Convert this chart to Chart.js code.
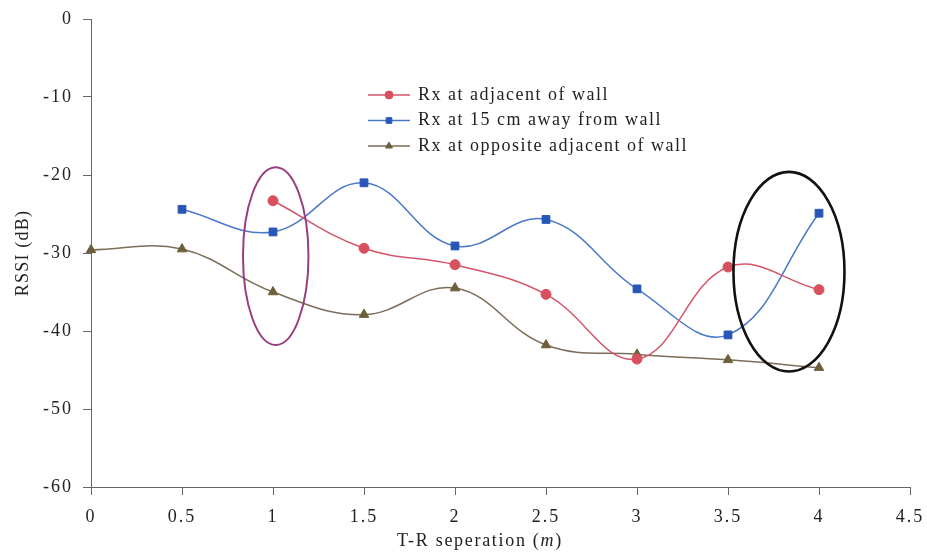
<!DOCTYPE html>
<html>
<head>
<meta charset="utf-8">
<script src="https://cdn.jsdelivr.net/npm/chart.js@4/dist/chart.umd.min.js"></script>
<style>
  html, body { margin: 0; padding: 0; background: #fff; }
  #wrap { width: 927px; height: 559px; }
</style>
</head>
<body>
<div id="wrap"><canvas id="rssiChart"></canvas></div>
<script>
// 거리별 RSSI 측정값 (dB)
const separation = [0, 0.5, 1, 1.5, 2, 2.5, 3, 3.5, 4];
const adjacentWall = [null, null, -23.3, -29.4, -31.5, -35.3, -43.6, -31.8, -34.7];
const awayFromWall = [null, -24.4, -27.3, -21.0, -29.1, -25.7, -34.6, -40.5, -24.9];
const oppositeWall = [-29.6, -29.5, -35.0, -37.9, -34.5, -41.8, -43.0, -43.7, -44.7];

const seriesNames = [
    'Rx at adjacent of wall',
    'Rx at 15 cm away from wall',
    'Rx at opposite adjacent of wall'
];
const yTicks = [0, -10, -20, -30, -40, -50, -60];

// 강조 타원 (데이터 좌표 기준)
const highlightRings = [
    { x: 1.015, y: -30.4, rx: 0.18, ry: 11.4, color: '#9a3d80', width: 2 },
    { x: 3.835, y: -32.4, rx: 0.305, ry: 12.8, color: '#111111', width: 2.6 }
];

const FONT = '"Liberation Serif", "Times New Roman", serif';
const TICK_SPACING = '2px';

const toPoints = (arr) => separation.map((x, i) => ({ x: x, y: arr[i] })).filter(p => p.y !== null);

/*
 * 눈금 글자 간격 지정 (레이아웃 계산 후 그릴 때만 적용)
 */
const spacingPlugin = {
    id: 'spacing',
    beforeDraw(chart) { chart.ctx.letterSpacing = TICK_SPACING; },
    afterDraw(chart) { chart.ctx.letterSpacing = '0px'; }
};

/*
 * 타원 + 축 제목 + 범례 그리기
 */
const overlayPlugin = {
    id: 'overlay',
    afterDatasetsDraw(chart) {
        const ctx = chart.ctx;
        const xs = chart.scales.x, ys = chart.scales.y;
        ctx.save();
        highlightRings.forEach(r => {
            const cx = xs.getPixelForValue(r.x);
            const cy = ys.getPixelForValue(r.y);
            const rx = Math.abs(xs.getPixelForValue(r.x + r.rx) - cx);
            const ry = Math.abs(ys.getPixelForValue(r.y + r.ry) - cy);
            ctx.beginPath();
            ctx.ellipse(cx, cy, rx, ry, 0, 0, Math.PI * 2);
            ctx.strokeStyle = r.color;
            ctx.lineWidth = r.width;
            ctx.stroke();
        });
        ctx.restore();
    },
    afterDraw(chart) {
        const ctx = chart.ctx;
        const area = chart.chartArea;
        ctx.save();
        ctx.fillStyle = '#222';

        // y축 제목
        ctx.letterSpacing = '1.2px';
        ctx.font = '18px ' + FONT;
        ctx.translate(23, (area.top + area.bottom) / 2);
        ctx.rotate(-Math.PI / 2);
        ctx.textAlign = 'center';
        ctx.textBaseline = 'middle';
        ctx.fillText('RSSI (dB)', 0, 0);
        ctx.setTransform(1, 0, 0, 1, 0, 0);

        // x축 제목 (m 은 이탤릭)
        ctx.letterSpacing = '1.7px';
        const part1 = 'T-R seperation (';
        const part2 = 'm';
        const part3 = ')';
        ctx.font = '18px ' + FONT;
        const w1 = ctx.measureText(part1).width;
        const w3 = ctx.measureText(part3).width;
        ctx.font = 'italic 18px ' + FONT;
        const w2 = ctx.measureText(part2).width;
        const tx = 480 - (w1 + w2 + w3) / 2;
        const ty = 541;
        ctx.textAlign = 'left';
        ctx.textBaseline = 'middle';
        ctx.font = '18px ' + FONT;
        ctx.fillText(part1, tx, ty);
        ctx.font = 'italic 18px ' + FONT;
        ctx.fillText(part2, tx + w1, ty);
        ctx.font = '18px ' + FONT;
        ctx.fillText(part3, tx + w1 + w2, ty);

        // 범례
        ctx.letterSpacing = '1.5px';
        const lx = 368, ly = 95, gap = 25.5;
        chart.data.datasets.forEach((ds, i) => {
            const y = ly + i * gap;
            ctx.beginPath();
            ctx.moveTo(lx, y);
            ctx.lineTo(lx + 42, y);
            ctx.strokeStyle = ds.borderColor;
            ctx.lineWidth = 1.5;
            ctx.stroke();
            ctx.fillStyle = ds.pointBackgroundColor;
            ctx.strokeStyle = ds.pointBorderColor;
            ctx.lineWidth = 1;
            Chart.helpers.drawPoint(ctx, {
                pointStyle: ds.pointStyle,
                radius: 4,
                rotation: 0,
                borderWidth: 1
            }, lx + 21, y);
            ctx.fillStyle = '#222';
            ctx.font = '18px ' + FONT;
            ctx.textAlign = 'left';
            ctx.textBaseline = 'middle';
            ctx.fillText(ds.label, lx + 50, y);
        });
        ctx.restore();
    }
};

document.addEventListener('DOMContentLoaded', function () {
    const ctx = document.getElementById('rssiChart').getContext('2d');

    const lineSet = (label, arr, line, fill, style, radius) => ({
        label: label,
        data: toPoints(arr),
        borderColor: line,
        borderWidth: 1.5,
        pointStyle: style,
        pointRadius: radius,
        pointHoverRadius: radius,
        pointBackgroundColor: fill,
        pointBorderColor: fill,
        pointBorderWidth: 1,
        tension: 0.4,
        fill: false,
        clip: false
    });

    new Chart(ctx, {
        type: 'line',
        data: {
            datasets: [
                lineSet(seriesNames[0], adjacentWall, '#d4566a', '#d8505e', 'circle', 5),
                lineSet(seriesNames[1], awayFromWall, '#4a79c8', '#2856b8', 'rect', 5.5),
                lineSet(seriesNames[2], oppositeWall, '#7c6c58', '#6e5f3c', 'triangle', 5.5)
            ]
        },
        options: {
            responsive: true,
            maintainAspectRatio: false,
            animation: false,
            layout: { padding: { top: 19, right: 17, left: 0, bottom: 0 } },
            plugins: {
                legend: { display: false },
                tooltip: { enabled: false }
            },
            scales: {
                x: {
                    type: 'linear',
                    min: 0,
                    max: 4.5,
                    ticks: {
                        stepSize: 0.5,
                        padding: 11,
                        color: '#222',
                        font: { family: FONT, size: 18 },
                        maxRotation: 0,
                        callback: (v) => String(v)
                    },
                    grid: { drawOnChartArea: false, drawTicks: true, tickLength: 8, color: '#666' },
                    border: { display: true, color: '#666', width: 1 },
                    afterFit: (scale) => {
                        scale.height = 72;
                        scale.paddingLeft = 0;
                        scale.paddingRight = 0;
                    }
                },
                y: {
                    min: -60,
                    max: 0,
                    afterBuildTicks: (scale) => {
                        scale.ticks = yTicks.map(v => ({ value: v }));
                    },
                    ticks: {
                        padding: 10,
                        color: '#222',
                        font: { family: FONT, size: 18 }
                    },
                    grid: { drawOnChartArea: false, drawTicks: true, tickLength: 8, color: '#666' },
                    border: { display: true, color: '#666', width: 1 },
                    afterFit: (scale) => {
                        scale.width = 91;
                        scale.paddingTop = 0;
                        scale.paddingBottom = 0;
                    }
                }
            }
        },
        plugins: [spacingPlugin, overlayPlugin]
    });
});
</script>
</body>
</html>
